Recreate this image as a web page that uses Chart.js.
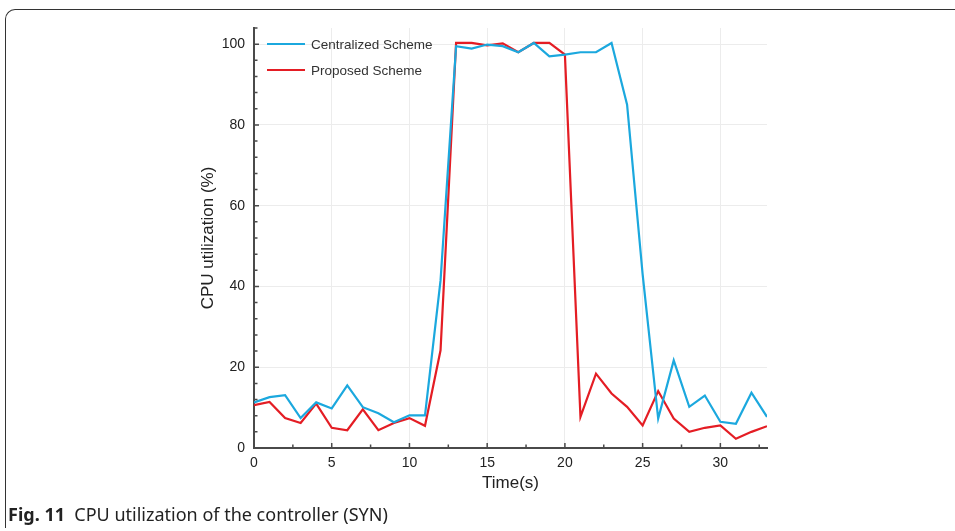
<!DOCTYPE html>
<html>
<head>
<meta charset="utf-8">
<script src="https://cdn.jsdelivr.net/npm/chart.js@4/dist/chart.umd.min.js"></script>
<style>
    html, body { margin: 0; padding: 0; background: #fff; overflow: hidden; }
    #wrap { position: relative; width: 955px; height: 531px; }
    #frame {
        position: absolute; left: 5px; top: 9px; width: 980px; height: 518px;
        border-top: 1.5px solid #333; border-left: 1.5px solid #333;
        border-top-left-radius: 10px;
    }
    #chartBox { position: absolute; left: 0; top: 0; width: 955px; height: 531px; }
    .caption {
        position: absolute; left: 8px; top: 502px;
        font-family: "Noto Sans", sans-serif; font-size: 18px; color: #222;
        white-space: nowrap;
    }
</style>
</head>
<body>
<div id="wrap">
    <div id="frame"></div>
    <div id="chartBox"><canvas id="cpuChart"></canvas></div>
    <div class="caption"><b>Fig. 11</b>&nbsp; CPU utilization of the controller (SYN)</div>
</div>
<script>
// Time axis (s)
const times = [0, 1, 2, 3, 4, 5, 6, 7, 8, 9, 10, 11, 12, 13, 14, 15, 16,
    17, 18, 19, 20, 21, 22, 23, 24, 25, 26, 27, 28, 29, 30, 31, 32, 33];

// CPU utilization (%)
const centralized = [11.3, 12.6, 13.1, 7.4, 11.3, 9.8, 15.5, 10.1, 8.6, 6.4, 8.1, 8.1, 41.5,
    99.5, 98.9, 99.9, 99.5, 98, 100.3, 97, 97.4, 98, 98, 100.3, 85, 43,
    7.3, 21.7, 10.2, 13, 6.5, 6, 13.7, 7.7];
const proposed = [10.6, 11.4, 7.4, 6.2, 11, 5, 4.4, 9.6, 4.4, 6.2, 7.4, 5.5, 24.2,
    100.3, 100.3, 99.7, 100.2, 98, 100.3, 100.3, 97.4, 7.7, 18.4, 13.5, 10.2, 5.6,
    14.1, 7.3, 4, 5, 5.6, 2.3, 4, 5.4];

const seriesNames = ['Centralized Scheme', 'Proposed Scheme'];

// Tick labels
const xTicks = [0, 5, 10, 15, 20, 25, 30];
const yTicks = [0, 20, 40, 60, 80, 100];
const xMinorStep = 2.5;
const yMinorStep = 4;

const AXIS_COLOR = '#4a4a4a';
const TEXT_COLOR = '#222';
const FONT = '"Liberation Sans", Arial, sans-serif';

document.addEventListener('DOMContentLoaded', () => {

    function toPoints(values) {
        return times.map((t, i) => ({ x: t, y: values[i] }));
    }

    // ticks point inward, major + minor
    const innerTicks = {
        id: 'innerTicks',
        afterDraw(chart) {
            const { ctx, chartArea } = chart;
            const xs = chart.scales.x;
            const ys = chart.scales.y;
            ctx.save();
            ctx.strokeStyle = AXIS_COLOR;
            ctx.lineWidth = 1.5;
            ctx.beginPath();
            for (let v = xs.min; v <= xs.max + 1e-6; v += xMinorStep) {
                const px = xs.getPixelForValue(v);
                const len = xTicks.includes(v) ? 5 : 3.5;
                ctx.moveTo(px, chartArea.bottom);
                ctx.lineTo(px, chartArea.bottom - len);
            }
            for (let v = ys.min; v <= ys.max + 1e-6; v += yMinorStep) {
                const py = ys.getPixelForValue(v);
                ctx.moveTo(chartArea.left, py);
                ctx.lineTo(chartArea.left + 3.5, py);
            }
            yTicks.forEach(v => {
                const py = ys.getPixelForValue(v);
                ctx.moveTo(chartArea.left, py);
                ctx.lineTo(chartArea.left + 5, py);
            });
            ctx.stroke();
            ctx.restore();
        }
    };

    // legend sits inside the plot, top left
    const innerLegend = {
        id: 'innerLegend',
        afterDraw(chart) {
            const { ctx, chartArea } = chart;
            ctx.save();
            ctx.font = '13.5px ' + FONT;
            ctx.textBaseline = 'middle';
            chart.data.datasets.forEach((ds, i) => {
                const y = chartArea.top + 16 + i * 26;
                ctx.strokeStyle = ds.borderColor;
                ctx.lineWidth = 2.2;
                ctx.beginPath();
                ctx.moveTo(chartArea.left + 13, y);
                ctx.lineTo(chartArea.left + 51, y);
                ctx.stroke();
                ctx.fillStyle = '#333';
                ctx.fillText(ds.label, chartArea.left + 57, y + 1);
            });
            ctx.restore();
        }
    };

    function createChart() {
        const ctx = document.getElementById('cpuChart').getContext('2d');

        new Chart(ctx, {
            type: 'line',
            data: {
                datasets: [
                    {
                        label: seriesNames[0],
                        data: toPoints(centralized),
                        borderColor: '#1ba8de',
                        borderWidth: 2.2,
                        pointRadius: 0,
                        tension: 0
                    },
                    {
                        label: seriesNames[1],
                        data: toPoints(proposed),
                        borderColor: '#e41d24',
                        borderWidth: 2.2,
                        pointRadius: 0,
                        tension: 0
                    }
                ]
            },
            options: {
                responsive: true,
                maintainAspectRatio: false,
                animation: false,
                layout: {
                    padding: { left: 198, top: 28, right: 188, bottom: 37 }
                },
                plugins: {
                    legend: { display: false },
                    tooltip: { enabled: false }
                },
                scales: {
                    x: {
                        type: 'linear',
                        min: 0,
                        max: 33,
                        afterBuildTicks: scale => { scale.ticks = xTicks.map(v => ({ value: v })); },
                        afterFit: scale => { scale.height = 46; },
                        grid: { color: '#ececec', lineWidth: 1, drawTicks: false },
                        border: { display: true, color: AXIS_COLOR, width: 2 },
                        ticks: {
                            padding: 7,
                            color: TEXT_COLOR,
                            font: { family: FONT, size: 14 },
                            maxRotation: 0
                        },
                        title: {
                            display: true,
                            text: 'Time(s)',
                            color: TEXT_COLOR,
                            font: { family: FONT, size: 17 },
                            padding: 0
                        }
                    },
                    y: {
                        min: 0,
                        max: 104,
                        afterBuildTicks: scale => { scale.ticks = yTicks.map(v => ({ value: v })); },
                        afterFit: scale => { scale.width = 56; },
                        grid: { color: '#ececec', lineWidth: 1, drawTicks: false },
                        border: { display: true, color: AXIS_COLOR, width: 2 },
                        ticks: {
                            padding: 9,
                            color: TEXT_COLOR,
                            font: { family: FONT, size: 14 }
                        },
                        title: {
                            display: true,
                            text: 'CPU utilization (%)',
                            color: TEXT_COLOR,
                            font: { family: FONT, size: 17 },
                            padding: 0
                        }
                    }
                }
            },
            plugins: [innerTicks, innerLegend]
        });
    }

    createChart();
});
</script>
</body>
</html>
